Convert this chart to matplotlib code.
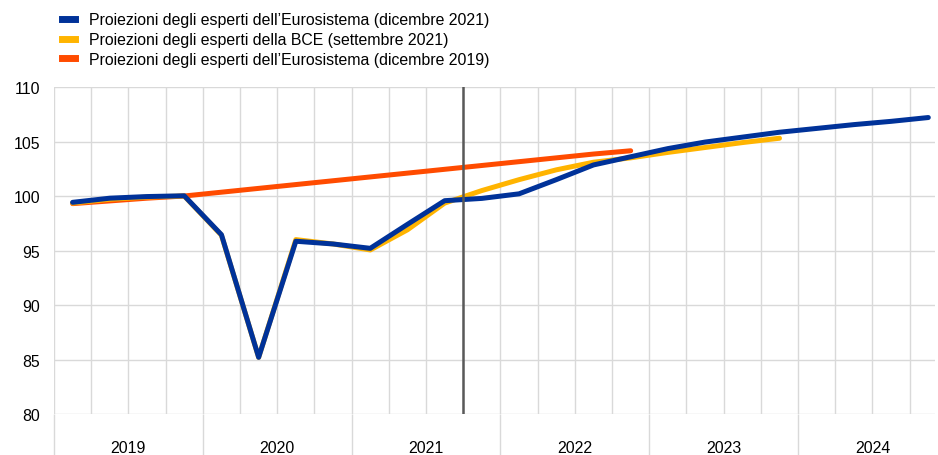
import numpy as np
import matplotlib.pyplot as plt
from matplotlib.lines import Line2D

plt.rcParams['font.family'] = ['Liberation Sans', 'DejaVu Sans']

years = ['2019', '2020', '2021', '2022', '2023', '2024']

# quarterly values, 2019Q1 onwards
dec2021 = [99.42, 99.8, 99.95, 100.02, 96.45, 85.2, 95.85, 95.6, 95.2, 97.4,
           99.57, 99.78, 100.2, 101.5, 102.85, 103.6, 104.35, 104.95, 105.4,
           105.85, 106.2, 106.55, 106.85, 107.2]
sep2021 = [99.35, 99.7, 99.9, 100.0, 96.4, 85.2, 96.0, 95.6, 95.05, 96.9,
           99.35, 100.5, 101.5, 102.4, 103.1, 103.5, 104.0, 104.45, 104.9, 105.3]
dec2019 = [99.3, 99.55, 99.8, 100.0, 100.35, 100.7, 101.05, 101.4, 101.75,
           102.1, 102.45, 102.8, 103.15, 103.5, 103.85, 104.15]

labels = ["Proiezioni degli esperti dell\u2019Eurosistema (dicembre 2021)",
          "Proiezioni degli esperti della BCE (settembre 2021)",
          "Proiezioni degli esperti dell\u2019Eurosistema (dicembre 2019)"]
colors = ['#003299', '#FFB400', '#FF4B00']
cutoff_quarter = 11  # boundary 2021Q3 / 2021Q4

fig = plt.figure(figsize=(9.38, 4.56), dpi=100)
ax = fig.add_axes([0.0576, 0.0899, 0.9392, 0.7171])

x = lambda s: np.arange(len(s)) + 0.5
ax.plot(x(dec2019), dec2019, color=colors[2], lw=3.6, solid_capstyle='round', zorder=3)
ax.plot(x(sep2021), sep2021, color=colors[1], lw=3.6, solid_capstyle='round', zorder=4)
ax.plot(x(dec2021), dec2021, color=colors[0], lw=3.6, solid_capstyle='round', zorder=5)
ax.axvline(cutoff_quarter, color='#595959', lw=1.8, zorder=6)

# quarter grid
for q in range(1, 24):
    if q % 4:
        ax.axvline(q, color='#d9d9d9', lw=1.0, zorder=1)
ax.set_yticks(np.arange(80, 111, 5))
ax.yaxis.grid(True, color='#d9d9d9', lw=1.0, zorder=1)
ax.set_axisbelow(True)

# year boundaries extend below the axis
ax.set_xticks(np.arange(0, 25, 4))
ax.set_xticklabels([''] * 7)
ax.tick_params(axis='x', which='major', length=30, color='#d9d9d9', width=1.0)
ax.xaxis.grid(True, which='major', color='#d9d9d9', lw=1.0)
ax.set_xticks(np.arange(2, 24, 4), minor=True)
ax.set_xticklabels(years, minor=True)
ax.tick_params(axis='x', which='minor', length=0, pad=19, labelsize=11.4)
ax.tick_params(axis='y', length=0, pad=10, labelsize=11.4)

ax.set_xlim(0, 23.68)
ax.set_ylim(80, 110)

for s in ax.spines.values():
    s.set_visible(False)

handles = [Line2D([], [], color=c, lw=5) for c in colors]
fig.legend(handles, labels, loc='upper left', bbox_to_anchor=(0.054, 0.995),
           frameon=False, fontsize=11.4, handlelength=0.85, handletextpad=0.85,
           labelspacing=0.3, borderaxespad=0.3)

fig.savefig('out.png', dpi=100)
